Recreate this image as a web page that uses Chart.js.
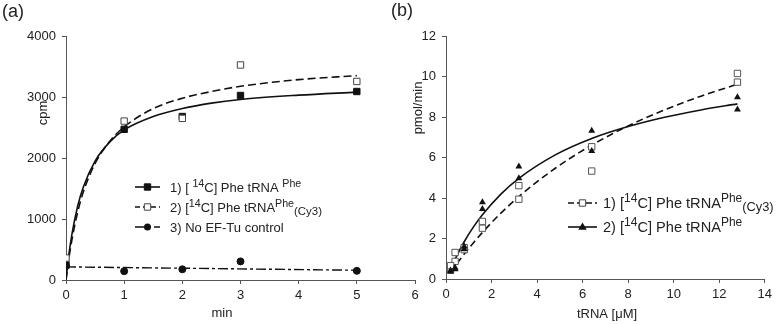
<!DOCTYPE html>
<html><head><meta charset="utf-8">
<script src="https://cdn.jsdelivr.net/npm/chart.js@4/dist/chart.umd.min.js"></script>
<style>
html,body{margin:0;padding:0;background:#fff;}
#wrap{position:relative;width:776px;height:324px;overflow:hidden;background:#fff;}
canvas{position:absolute;top:0;}
#ca{left:0;}
#cb{left:390px;}
</style></head><body>
<div id="wrap"><canvas id="ca" width="430" height="324"></canvas><canvas id="cb" width="386" height="324"></canvas></div>
<script>
// ---------- Panel (a) data ----------
const timeMin = [0, 1, 2, 3, 5];
const cpmPhe  = [245, 2470, 2680, 3025, 3090];
const cpmCy3  = [360, 2605, 2650, 3525, 3255];
const cpmNoTu = [230, 145, 175, 305, 150];
const fitTime = [0, 0.05, 0.1, 0.2, 0.3, 0.5, 0.75, 1, 1.5, 2, 2.5, 3, 4, 5];
const fitPhe  = [0, 420, 740, 1210, 1530, 1950, 2260, 2460, 2680, 2810, 2900, 2960, 3030, 3080];
const fitCy3  = [0, 360, 650, 1110, 1450, 1910, 2270, 2510, 2810, 2980, 3090, 3175, 3285, 3350];
const ctrlTime = [0, 5];
const ctrlLine = [215, 160];
const xTicksA = [0, 1, 2, 3, 4, 5, 6];
const yTicksA = [0, 1000, 2000, 3000, 4000];

// ---------- Panel (b) data ----------
const tRNA = [0.2, 0.4, 0.8, 1.6, 3.2, 6.4, 12.8];
const rateCy3A = [0.66, 1.31, 1.55, 2.84, 4.61, 6.53, 10.15];
const rateCy3B = [0.46, 0.87, 1.45, 2.51, 3.94, 5.33, 9.72];
const ratePheA = [0.42, 0.55, 1.60, 3.79, 5.55, 7.32, 8.98];
const ratePheB = [0.36, 0.48, 1.48, 3.46, 4.97, 6.32, 8.37];
const fitConc = [0.2, 0.4, 0.8, 1.2, 1.6, 2.4, 3.2, 4.8, 6.4, 8, 9.6, 11.2, 12.8];
const fitRatePhe = [0.45, 0.98, 1.84, 2.56, 3.17, 4.18, 4.97, 6.13, 6.94, 7.53, 7.99, 8.35, 8.65];
const fitRateCy3 = [0.32, 0.64, 1.23, 1.78, 2.30, 3.24, 4.07, 5.47, 6.61, 7.56, 8.35, 9.03, 9.62];
const xTicksB = [0, 2, 4, 6, 8, 10, 12, 14];
const yTicksB = [0, 2, 4, 6, 8, 10, 12];

const FONT = '"Liberation Sans", Arial, Helvetica, sans-serif';
const TXT = '#222';
const AX = '#555';

const pts = (xs, ys) => xs.map((x, i) => ({x, y: ys[i]}));

function marker(ctx, kind, x, y, r) {
  ctx.save();
  ctx.lineWidth = 1;
  ctx.strokeStyle = '#111';
  ctx.fillStyle = '#111';
  ctx.beginPath();
  if (kind === 'sq' || kind === 'osq') {
    const s = r * Math.SQRT1_2;
    ctx.rect(x - s, y - s, 2 * s, 2 * s);
    if (kind === 'osq') { ctx.fillStyle = '#fff'; ctx.strokeStyle = '#444'; }
    ctx.fill(); ctx.stroke();
  } else if (kind === 'circ') {
    ctx.arc(x, y, r, 0, Math.PI * 2); ctx.fill();
  } else if (kind === 'tri') {
    ctx.moveTo(x, y - r); ctx.lineTo(x + r * 0.95, y + r * 0.6); ctx.lineTo(x - r * 0.95, y + r * 0.6); ctx.closePath(); ctx.fill();
  }
  ctx.restore();
}

function rich(ctx, x, y, segs, size) {
  ctx.textAlign = 'left'; ctx.textBaseline = 'alphabetic'; ctx.fillStyle = TXT;
  for (const [t, k] of segs) {
    const fs = k === 'n' ? size : (k === 'sub' ? size * 0.88 : size * 0.82);
    const dy = k === 'sup' ? -size * 0.42 : (k === 'sub' ? size * 0.22 : 0);
    ctx.font = fs + 'px ' + FONT;
    ctx.fillText(t, x, y + dy);
    x += ctx.measureText(t).width;
  }
}

function legendRow(ctx, x0, x1, y, dash, mk, r, segs, tx, size) {
  ctx.save();
  ctx.strokeStyle = '#111'; ctx.lineWidth = 1.6; ctx.setLineDash(dash);
  ctx.beginPath(); ctx.moveTo(x0, y); ctx.lineTo(x1, y); ctx.stroke();
  ctx.setLineDash([]);
  marker(ctx, mk, (x0 + x1) / 2, y, r);
  rich(ctx, tx, y + 5, segs, size);
  ctx.restore();
}

function txt(ctx, s, x, y, size, rot) {
  ctx.save();
  ctx.translate(x, y);
  if (rot) ctx.rotate(rot);
  ctx.font = size + 'px ' + FONT;
  ctx.fillStyle = TXT; ctx.textAlign = 'center'; ctx.textBaseline = 'middle';
  ctx.fillText(s, 0, 0);
  ctx.restore();
}

function axis(min, max, tickVals, fitKey, fitVal, pad) {
  return {
    type: 'linear', min, max,
    afterBuildTicks: s => { s.ticks = tickVals.map(v => ({value: v})); },
    afterFit: s => { s[fitKey] = fitVal; },
    ticks: {color: TXT, font: {family: FONT, size: 13}, padding: pad, callback: v => String(v)},
    grid: {drawOnChartArea: false, drawTicks: true, tickLength: 4, color: AX},
    border: {display: true, color: AX, width: 1}
  };
}

const baseOpts = {
  responsive: false, animation: false, devicePixelRatio: 1,
  plugins: {legend: {display: false}, tooltip: {enabled: false}},
};

// ---------- Chart (a) ----------
new Chart(document.getElementById('ca'), {
  type: 'scatter',
  data: {datasets: [
    {data: pts(timeMin, cpmCy3), pointStyle: 'rect', pointRadius: 4.5, pointBackgroundColor: '#fff', pointBorderColor: '#444', pointBorderWidth: 1, showLine: false},
    {data: pts(timeMin, cpmPhe), pointStyle: 'rect', pointRadius: 4.5, pointBackgroundColor: '#111', pointBorderColor: '#111', pointBorderWidth: 1, showLine: false},
    {data: pts(timeMin, cpmNoTu), pointStyle: 'circle', pointRadius: 3.5, pointBackgroundColor: '#111', pointBorderColor: '#111', pointBorderWidth: 1, showLine: false},
    {data: pts(fitTime, fitPhe), showLine: true, pointRadius: 0, borderColor: '#111', borderWidth: 1.6, cubicInterpolationMode: 'monotone', fill: false},
    {data: pts(fitTime, fitCy3), showLine: true, pointRadius: 0, borderColor: '#111', borderWidth: 1.6, borderDash: [8, 4], cubicInterpolationMode: 'monotone', fill: false},
    {data: pts(ctrlTime, ctrlLine), showLine: true, pointRadius: 0, borderColor: '#111', borderWidth: 1.4, borderDash: [10, 3, 3, 3], fill: false}
  ]},
  options: Object.assign({}, baseOpts, {
    layout: {padding: {top: 36, right: 15, left: 0, bottom: 0}},
    scales: {
      x: axis(0, 6, xTicksA, 'height', 44, 4),
      y: axis(0, 4000, yTicksA, 'width', 66, 6)
    }
  }),
  plugins: [{
    id: 'annA',
    afterDraw(chart) {
      const ctx = chart.ctx;
      txt(ctx, '(a)', 13, 12, 18, 0);
      txt(ctx, 'cpm', 43, 113, 13, -Math.PI / 2);
      txt(ctx, 'min', 222, 313, 13, 0);
      legendRow(ctx, 135, 160, 187, [], 'sq', 4.5,
        [['1) [ ', 'n'], ['14', 'sup'], ['C] Phe tRNA ', 'n'], ['Phe', 'sup']], 170, 13);
      legendRow(ctx, 135, 160, 207, [5, 3], 'osq', 4.5,
        [['2) [', 'n'], ['14', 'sup'], ['C] Phe tRNA', 'n'], ['Phe', 'sup'], ['(Cy3)', 'sub']], 170, 13);
      legendRow(ctx, 135, 160, 227, [10, 3, 3, 3], 'circ', 3.5,
        [['3) No EF-Tu control', 'n']], 170, 13);
    }
  }]
});

// ---------- Chart (b) ----------
new Chart(document.getElementById('cb'), {
  type: 'scatter',
  data: {datasets: [
    {data: pts(tRNA, ratePheA), pointStyle: 'triangle', pointRadius: 4, pointBackgroundColor: '#111', pointBorderColor: '#111', pointBorderWidth: 0, showLine: false},
    {data: pts(tRNA, ratePheB), pointStyle: 'triangle', pointRadius: 4, pointBackgroundColor: '#111', pointBorderColor: '#111', pointBorderWidth: 0, showLine: false},
    {data: pts(tRNA, rateCy3A), pointStyle: 'rect', pointRadius: 4.5, pointBackgroundColor: '#fff', pointBorderColor: '#555', pointBorderWidth: 1, showLine: false},
    {data: pts(tRNA, rateCy3B), pointStyle: 'rect', pointRadius: 4.5, pointBackgroundColor: '#fff', pointBorderColor: '#555', pointBorderWidth: 1, showLine: false},
    {data: pts(fitConc, fitRatePhe), showLine: true, pointRadius: 0, borderColor: '#111', borderWidth: 1.6, cubicInterpolationMode: 'monotone', fill: false},
    {data: pts(fitConc, fitRateCy3), showLine: true, pointRadius: 0, borderColor: '#111', borderWidth: 1.6, borderDash: [7, 4], cubicInterpolationMode: 'monotone', fill: false}
  ]},
  options: Object.assign({}, baseOpts, {
    layout: {padding: {top: 36, right: 9, left: 0, bottom: 0}},
    scales: {
      x: axis(0, 14, xTicksB, 'height', 45, 4),
      y: axis(0, 12, yTicksB, 'width', 56, 6)
    }
  }),
  plugins: [{
    id: 'annB',
    afterDraw(chart) {
      const ctx = chart.ctx;
      txt(ctx, '(b)', 12, 11, 18, 0);
      txt(ctx, 'pmol/min', 28, 108, 13, -Math.PI / 2);
      txt(ctx, 'tRNA [\u03BCM]', 217, 314, 13, 0);
      legendRow(ctx, 178, 207, 203, [6, 3], 'osq', 4.5,
        [['1) [', 'n'], ['14', 'sup'], ['C] Phe tRNA', 'n'], ['Phe', 'sup'], ['(Cy3)', 'sub']], 213, 14.6);
      legendRow(ctx, 178, 207, 227, [], 'tri', 4.5,
        [['2) [', 'n'], ['14', 'sup'], ['C] Phe tRNA', 'n'], ['Phe', 'sup']], 213, 14.6);
    }
  }]
});
</script>
</body></html>
